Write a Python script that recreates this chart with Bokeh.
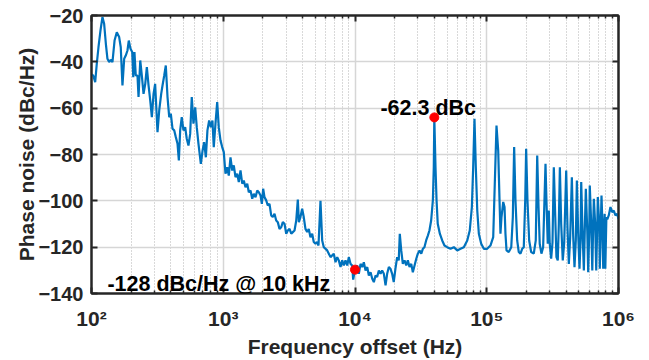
import numpy as np
from bokeh.plotting import figure
from bokeh.models import FixedTicker, LinearAxis, LogAxis, Label, CustomJSTickFormatter
from bokeh.embed import file_html
from bokeh.resources import INLINE

# ---------------- data ----------------
# log10 of frequency offset (Hz) and phase noise (dBc/Hz)
low_logf = [2.000, 2.013, 2.028, 2.040, 2.053, 2.068, 2.083, 2.096, 2.109, 2.121,
            2.134, 2.146, 2.159, 2.175, 2.192, 2.210, 2.222, 2.235, 2.248, 2.260,
            2.273, 2.283, 2.296, 2.309, 2.317, 2.326, 2.336, 2.349, 2.357, 2.370,
            2.382, 2.395, 2.408, 2.420, 2.433, 2.446, 2.458, 2.471, 2.483, 2.493,
            2.501, 2.514, 2.529, 2.539, 2.552, 2.564, 2.577, 2.590, 2.602, 2.615,
            2.628, 2.640, 2.653, 2.663, 2.673, 2.685, 2.698, 2.711, 2.723, 2.736,
            2.749, 2.761, 2.774, 2.787, 2.799, 2.812, 2.830, 2.843, 2.855, 2.868,
            2.880, 2.893, 2.906, 2.918, 2.928, 2.941, 2.954, 2.966, 2.979, 2.992]
low_pn = [-45.5, -45.9, -48.8, -40.9, -33.7, -26.5, -20.7, -23.6, -32.2, -38.7,
          -40.1, -39.1, -40.1, -30.8, -27.2, -29.3, -33.7, -50.2, -38.7, -37.3,
          -35.1, -30.8, -34.4, -35.8, -46.6, -35.8, -45.9, -45.9, -55.2, -39.4,
          -45.9, -53.8, -49.5, -42.3, -50.2, -56.7, -63.9, -53.8, -49.5, -61.0,
          -70.4, -61.0, -53.8, -50.2, -45.9, -41.6, -55.2, -63.9, -62.4, -68.9,
          -69.6, -72.5, -75.4, -82.6, -69.6, -63.9, -69.6, -68.2, -73.2, -76.1,
          -71.1, -55.2, -66.7, -59.6, -68.2, -75.4, -84.0, -78.3, -74.7, -81.2,
          -69.6, -65.3, -68.2, -65.3, -76.8, -66.7, -57.4, -68.2, -73.9, -76.8]

mid_logf = [3.004, 3.017, 3.030, 3.042, 3.055, 3.068, 3.080, 3.093, 3.106, 3.118,
            3.131, 3.144, 3.156, 3.169, 3.182, 3.194, 3.207, 3.220, 3.232, 3.245,
            3.258, 3.270, 3.283, 3.293, 3.303, 3.313, 3.326, 3.338, 3.351, 3.364,
            3.376, 3.389, 3.402, 3.414, 3.427, 3.440, 3.452, 3.465, 3.478, 3.490,
            3.503, 3.516, 3.528, 3.541, 3.554, 3.566, 3.574, 3.586, 3.599, 3.611,
            3.624, 3.637, 3.649, 3.662, 3.675, 3.687, 3.700, 3.713, 3.723, 3.738,
            3.751, 3.763, 3.789, 3.814, 3.839, 3.852, 3.865, 3.877, 3.890, 3.903,
            3.915, 3.928, 3.941, 3.953, 3.966, 3.979, 3.986, 4.000]
mid_pn = [-79.0, -88.3, -85.5, -89.1, -81.2, -86.9, -84.7, -89.8, -88.3, -91.9,
          -86.9, -92.6, -91.2, -94.1, -92.6, -96.3, -95.5, -99.1, -97.0, -98.4,
          -95.5, -96.3, -97.7, -101.3, -94.8, -98.4, -99.8, -102.0, -101.3, -106.3,
          -107.0, -105.6, -108.5, -109.2, -112.1, -111.4, -109.2, -109.9, -114.2, -112.8,
          -112.1, -114.2, -113.5, -112.8, -108.5, -99.5, -109.2, -107.0, -103.4, -107.0,
          -112.1, -113.5, -112.1, -115.7, -114.2, -117.8, -118.5, -117.8, -119.3, -100.0,
          -117.1, -120.0, -121.4, -124.3, -122.8, -126.5, -124.3, -125.7, -128.6, -125.7,
          -127.9, -125.7, -127.9, -124.3, -127.2, -127.9, -134.0, -129.7]

high_logf = [4.017, 4.029, 4.042, 4.055, 4.067, 4.080, 4.093, 4.105, 4.118, 4.131,
             4.143, 4.156, 4.168, 4.181, 4.194, 4.206, 4.219, 4.232, 4.244, 4.257,
             4.269, 4.282, 4.294, 4.307, 4.320, 4.332, 4.340, 4.351, 4.363, 4.376,
             4.389, 4.401, 4.414, 4.427, 4.439, 4.452, 4.465, 4.477, 4.490, 4.503,
             4.515, 4.527, 4.540, 4.553, 4.565, 4.578, 4.591, 4.598, 4.602, 4.611,
             4.619, 4.628, 4.644, 4.662, 4.679, 4.700, 4.725, 4.750, 4.776, 4.801,
             4.826, 4.852, 4.871, 4.887, 4.897, 4.907, 4.917, 4.928, 4.940, 4.958,
             4.978, 5.003, 5.028, 5.049, 5.061, 5.074, 5.087, 5.097, 5.104, 5.112,
             5.125, 5.135, 5.142, 5.150, 5.167, 5.186, 5.198, 5.208, 5.218, 5.231,
             5.243, 5.256, 5.269, 5.281, 5.292, 5.299, 5.309, 5.322, 5.337, 5.357,
             5.372, 5.383, 5.393, 5.402, 5.415, 5.428, 5.438, 5.446, 5.453, 5.463,
             5.471, 5.478, 5.489, 5.499, 5.509, 5.520, 5.529, 5.539, 5.547, 5.555,
             5.565, 5.577, 5.588, 5.603, 5.613, 5.623, 5.633, 5.646, 5.656, 5.666,
             5.676, 5.684, 5.694, 5.704, 5.712, 5.717, 5.727, 5.737, 5.744, 5.752,
             5.763, 5.770, 5.778, 5.782, 5.793, 5.801, 5.808, 5.813, 5.823, 5.831,
             5.839, 5.843, 5.854, 5.858, 5.866, 5.871, 5.878, 5.884, 5.890, 5.895,
             5.900, 5.908, 5.915, 5.926, 5.939, 5.952, 5.964, 5.977, 5.990, 6.000]
high_pn = [-127.9, -131.5, -127.2, -128.6, -126.5, -130.1, -128.6, -132.2, -130.8, -133.6,
           -135.1, -132.2, -132.9, -130.1, -131.5, -130.1, -131.5, -136.5, -131.5, -128.6,
           -129.3, -131.5, -135.1, -129.3, -124.3, -125.7, -114.2, -121.4, -127.2, -125.7,
           -127.9, -125.7, -128.6, -127.2, -130.8, -127.9, -125.0, -122.8, -121.4, -122.8,
           -120.7, -120.0, -117.1, -115.0, -112.8, -108.5, -99.8, -85.5, -64.0, -85.5,
           -99.8, -109.9, -114.2, -117.1, -119.3, -120.0, -120.7, -120.0, -121.4, -120.7,
           -120.0, -117.1, -112.8, -102.7, -85.5, -64.6, -85.5, -104.2, -114.2, -118.5,
           -120.7, -120.7, -119.3, -115.7, -92.6, -67.5, -78.3, -99.8, -114.2, -107.0,
           -100.5, -102.7, -114.2, -121.4, -122.1, -120.0, -107.0, -76.8, -99.8, -117.1,
           -122.1, -122.8, -120.7, -120.0, -99.8, -77.5, -99.8, -117.1, -122.1, -122.8,
           -117.1, -80.4, -102.7, -118.5, -122.8, -120.0, -99.8, -84.0, -99.8, -118.5,
           -104.2, -118.5, -125.0, -118.0, -85.5, -107.0, -124.3, -125.7, -110.0, -85.5,
           -110.0, -125.7, -118.0, -86.9, -112.0, -127.2, -116.0, -89.8, -115.0, -128.6,
           -117.0, -91.2, -114.0, -129.3, -117.0, -91.9, -113.0, -130.1, -113.0, -94.8,
           -113.0, -130.8, -113.0, -93.4, -110.0, -130.1, -110.0, -99.1, -110.0, -130.1,
           -110.0, -98.4, -110.0, -129.3, -110.0, -97.7, -110.0, -129.3, -114.0, -105.6,
           -129.3, -107.0, -108.0, -106.3, -102.7, -104.9, -104.2, -106.3, -105.6, -107.8]

marker_freq = [1.0e4, 4.0e4]
marker_pn = [-129.7, -64.0]

x_major = [1e2, 1e3, 1e4, 1e5, 1e6]
x_tick_labels = ["10\u00b2", "10\u00b3", "10\u2074", "10\u2075", "10\u2076"]
y_major = [-140, -120, -100, -80, -60, -40, -20]

# ---------------- figure ----------------
freq = 10 ** np.array(low_logf + mid_logf + high_logf)
pn = np.array(low_pn + mid_pn + high_pn)

FONT = "Liberation Sans"
DARK = "#262626"

p = figure(width=649, height=360, x_axis_type="log",
           x_range=(1e2, 1e6), y_range=(-140, -20),
           output_backend="svg", toolbar_location=None,
           min_border_left=91, min_border_right=31,
           min_border_top=15, min_border_bottom=67)
p.background_fill_color = "white"
p.border_fill_color = "white"
p.outline_line_color = DARK
p.outline_line_width = 2

x_minor = [m * 10 ** d for d in range(2, 6) for m in range(2, 10)]
x_ticker = FixedTicker(ticks=x_major, minor_ticks=x_minor)
y_ticker = FixedTicker(ticks=y_major, minor_ticks=[])

# grids
p.xgrid.ticker = x_ticker
p.ygrid.ticker = y_ticker
p.xgrid.grid_line_color = "#d6d6d6"
p.xgrid.grid_line_width = 1.5
p.xgrid.minor_grid_line_color = "#b3b3b3"
p.xgrid.minor_grid_line_dash = "1 2"
p.xgrid.minor_grid_line_width = 1
p.ygrid.grid_line_color = "#d6d6d6"
p.ygrid.grid_line_width = 1.5

# bottom axis
xa = p.xaxis[0]
xa.ticker = x_ticker
xa.formatter = CustomJSTickFormatter(
    args=dict(vals=x_major, labs=x_tick_labels),
    code="""
        let best = 0;
        for (let i = 0; i < vals.length; i++) {
            if (Math.abs(Math.log10(tick) - Math.log10(vals[i])) <
                Math.abs(Math.log10(tick) - Math.log10(vals[best]))) { best = i; }
        }
        return labs[best];
    """)
xa.major_tick_in = 6
xa.major_tick_out = 0
xa.minor_tick_in = 3
xa.minor_tick_out = 0
xa.major_tick_line_width = 2
xa.minor_tick_line_width = 1.5
xa.major_tick_line_color = DARK
xa.minor_tick_line_color = DARK
xa.axis_line_color = DARK
xa.axis_line_width = 2
xa.major_label_text_font = FONT
xa.major_label_text_font_style = "bold"
xa.major_label_text_font_size = "21px"
xa.major_label_text_color = DARK
xa.major_label_standoff = 13
xa.axis_label = "Frequency offset (Hz)"
xa.axis_label_text_font = FONT
xa.axis_label_text_font_style = "bold"
xa.axis_label_text_font_size = "21px"
xa.axis_label_text_color = DARK
xa.axis_label_standoff = 2

# left axis
ya = p.yaxis[0]
ya.ticker = y_ticker
ya.major_tick_in = 6
ya.major_tick_out = 0
ya.minor_tick_in = 0
ya.minor_tick_out = 0
ya.major_tick_line_width = 2
ya.major_tick_line_color = DARK
ya.axis_line_color = DARK
ya.axis_line_width = 2
ya.major_label_text_font = FONT
ya.major_label_text_font_style = "bold"
ya.major_label_text_font_size = "20px"
ya.major_label_text_color = DARK
ya.major_label_standoff = 8
ya.axis_label = "Phase noise (dBc/Hz)"
ya.axis_label_text_font = FONT
ya.axis_label_text_font_style = "bold"
ya.axis_label_text_font_size = "21px"
ya.axis_label_text_color = DARK
ya.axis_label_standoff = -3

# top and right axes: ticks only (box like the reference)
top = LogAxis(ticker=x_ticker, formatter=CustomJSTickFormatter(code="return ''"),
              major_tick_in=6, major_tick_out=0, minor_tick_in=3, minor_tick_out=0,
              major_tick_line_width=2, minor_tick_line_width=1.5,
              major_tick_line_color=DARK, minor_tick_line_color=DARK,
              axis_line_color=DARK, axis_line_width=2,
              major_label_text_font_size="0px", major_label_standoff=0)
p.add_layout(top, "above")
right = LinearAxis(ticker=y_ticker, formatter=CustomJSTickFormatter(code="return ''"),
                   major_tick_in=6, major_tick_out=0, minor_tick_in=0, minor_tick_out=0,
                   major_tick_line_width=2, major_tick_line_color=DARK,
                   axis_line_color=DARK, axis_line_width=2,
                   major_label_text_font_size="0px", major_label_standoff=0)
p.add_layout(right, "right")

# data
p.line(freq, pn, line_color="#0072BD", line_width=2.2)
p.scatter(marker_freq, marker_pn, size=9, fill_color="#ff0000", line_color="#ff0000")

# annotations
p.add_layout(Label(x=15600, y=-60.1, text="-62.3 dBc", text_align="left",
                   text_baseline="alphabetic", text_font=FONT, text_font_style="bold",
                   text_font_size="21.5px", text_color="black"))
p.add_layout(Label(x=132, y=-135.7, text="-128 dBc/Hz @ 10 kHz", text_align="left",
                   text_baseline="alphabetic", text_font=FONT, text_font_style="bold",
                   text_font_size="21.5px", text_color="black"))

open("out.html", "w").write(file_html(p, INLINE))
